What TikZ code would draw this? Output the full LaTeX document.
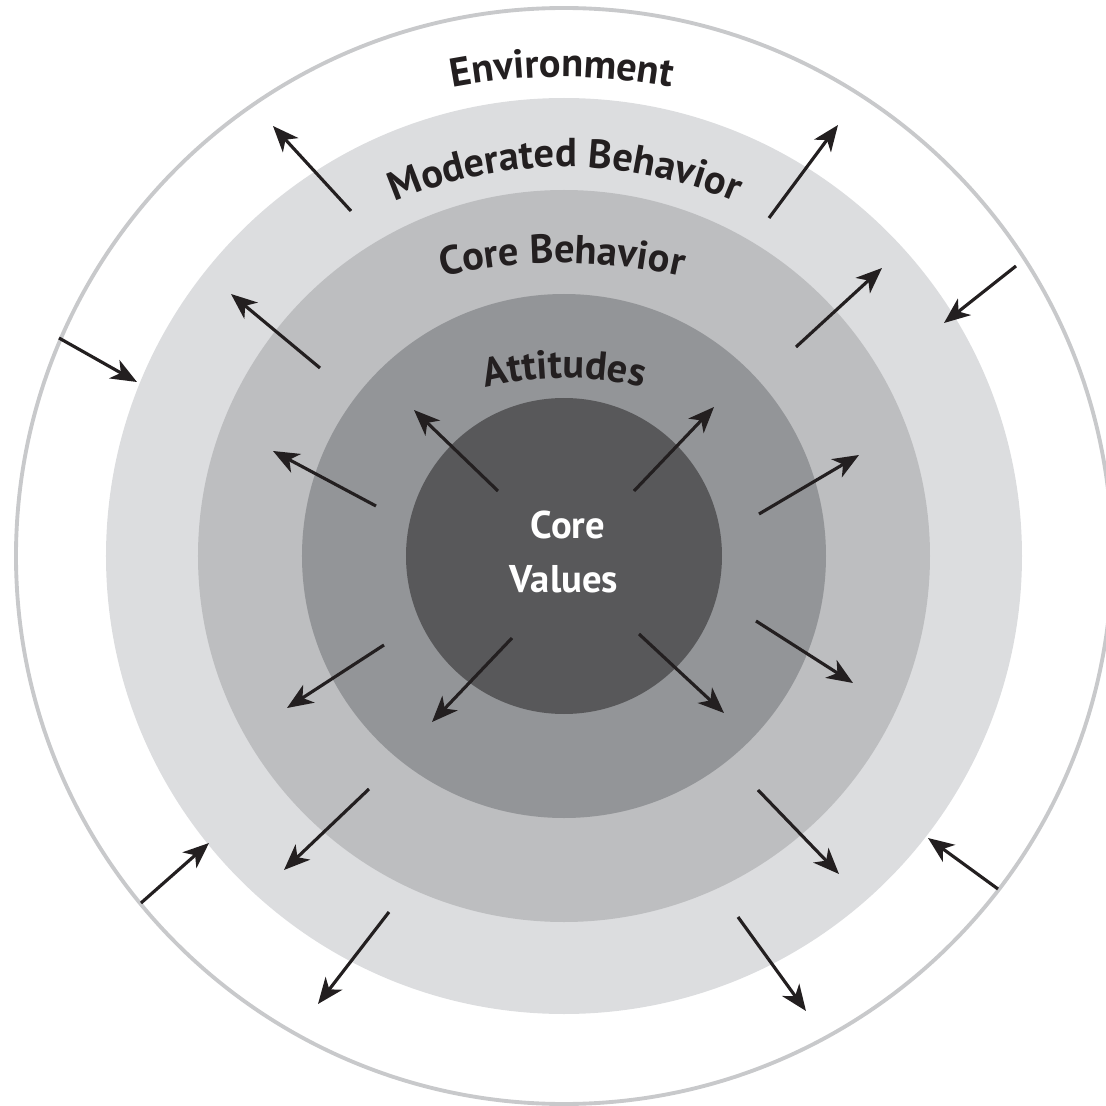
\documentclass[tikz,border=0pt]{standalone}
\usepackage{fontspec}
\setmainfont{PT Sans}
\usepackage{tikz}
\usetikzlibrary{positioning,arrows.meta,decorations.text}
\definecolor{ovInk}{RGB}{35,31,32}
\definecolor{ovLine}{RGB}{200,201,203}
\definecolor{ovModerated}{RGB}{220,221,223}
\definecolor{ovCoreBeh}{RGB}{189,190,192}
\definecolor{ovAttitude}{RGB}{147,149,152}
\definecolor{ovValues}{RGB}{88,88,90}
\newcommand{\ringfont}{\fontsize{23}{28}\selectfont\bfseries\color{ovInk}}
\tikzset{
    base/.style={font=\bfseries, align=center},
    valuetext/.style={base, text=white, font=\fontsize{22}{30}\selectfont\bfseries, inner sep=0pt},
    flow/.style={-{Stealth[length=0.52cm, width=0.42cm, inset=0.15cm]}, line width=1.8pt, color=ovInk},
    ringlabel/.style={decorate, decoration={text along path, text align=center, text={#1}}}
}

\begin{document}
\begin{tikzpicture}[x=0.02cm, y=0.02cm]
  \useasboundingbox (-564,-550) rectangle (542,556);

  % Rings, outside in
  \draw[ovLine, line width=2.2pt] (0,0) circle[radius=548];
  \fill[ovModerated] (0,0) circle[radius=458];
  \fill[ovCoreBeh] (0,0) circle[radius=366];
  \fill[ovAttitude] (0,0) circle[radius=262];
  \fill[ovValues] (0,0) circle[radius=158];

  % Ring labels
  \path[ringlabel={|\ringfont|Environment}]
    ([shift={(120:580)}]-2,-101) arc[start angle=120, end angle=60, radius=580];
  \path[ringlabel={|\ringfont|Moderated Behavior}]
    ([shift={(140:430)}]1,-41) arc[start angle=140, end angle=40, radius=430];
  \path[ringlabel={|\ringfont|Core Behavior}]
    ([shift={(125:530)}]-2,-237) arc[start angle=125, end angle=55, radius=530];
  \path[ringlabel={|\ringfont|Attitudes}]
    ([shift={(130:320)}]0,-142) arc[start angle=130, end angle=50, radius=320];

  % Core values
  \node[valuetext, anchor=base] (core) at (4,18) {Core};
  \node[valuetext, anchor=base] (values) at (0,-36) {Values};

  % Arrows: tail / head
  \foreach \i/\tx/\ty/\hx/\hy in {
      1/-213/345/-291/430, 2/-244/188/-333/262, 3/-505/218/-427/174,
      4/205/338/274/431, 5/232/209/318/288, 6/452/290/380/233,
      7/-423/-347/-355/-287, 8/-195/-233/-280/-314, 9/-175/-356/-246/-448,
      10/194/-234/275/-318, 11/174/-361/242/-455, 12/434/-333/364/-282,
      13/-66/65/-150/146, 14/70/65/150/149, 15/-52/-82/-132/-166,
      16/75/-78/160/-157, 17/-188/50/-291/105, 18/195/42/295/101,
      19/-180/-89/-277/-152, 20/192/-65/289/-127} {
    \coordinate (t\i) at (\tx,\ty);
    \coordinate (h\i) at (\hx,\hy);
    \draw[flow] (t\i) -- (h\i);
  }
\end{tikzpicture}
\end{document}
